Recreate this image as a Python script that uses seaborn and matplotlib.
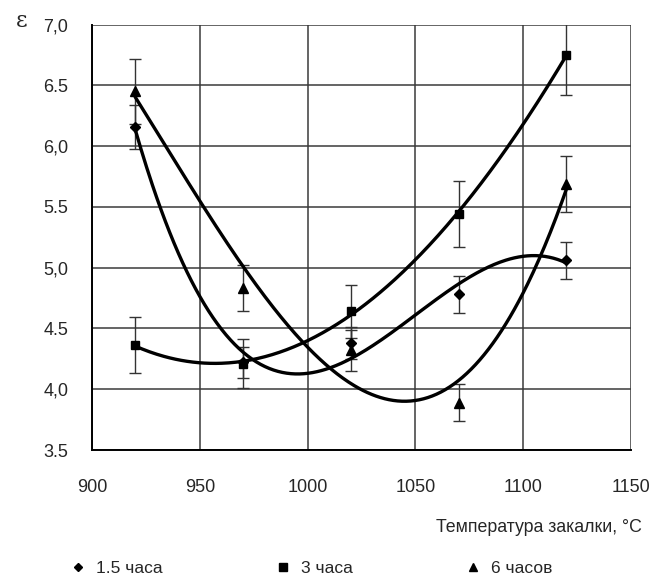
import numpy as np
import pandas as pd
import matplotlib
matplotlib.use('Agg')
import matplotlib.pyplot as plt
import seaborn as sns
from matplotlib.lines import Line2D

# Data
temps = [920, 970, 1020, 1070, 1120]
series_names = ['1.5 часа', '3 часа', '6 часов']
eps_15 = [6.16, 4.22, 4.38, 4.78, 5.06]
err_15 = [0.18, 0.13, 0.13, 0.15, 0.15]
eps_3 = [4.36, 4.21, 4.64, 5.44, 6.75]
err_3 = [0.23, 0.20, 0.22, 0.27, 0.33]
eps_6 = [6.45, 4.83, 4.32, 3.89, 5.69]
err_6 = [0.27, 0.19, 0.17, 0.15, 0.23]
markers = ['D', 's', '^']
marker_sizes = [5, 6, 7]

y_ticks = [3.5, 4.0, 4.5, 5.0, 5.5, 6.0, 6.5, 7.0]
y_tick_labels = ['3.5', '4,0', '4.5', '5,0', '5.5', '6,0', '6.5', '7,0']
x_ticks = [900, 950, 1000, 1050, 1100, 1150]

sns.set_style('white')
plt.rcParams['font.family'] = ['Liberation Sans', 'DejaVu Sans']

fig = plt.figure(figsize=(6.49, 5.77), dpi=100)
ax = fig.add_axes([0.1418, 0.2201, 0.8305, 0.7374])

all_vals = [eps_15, eps_3, eps_6]
all_errs = [err_15, err_3, err_6]

# Cubic trend lines (like Excel polynomial trendline)
xs = np.linspace(920, 1120, 300)
trend_frames = []
for name, vals in zip(series_names, all_vals):
    coefs = np.polyfit(temps, vals, 3)
    trend_frames.append(pd.DataFrame({'T': xs, 'eps': np.polyval(coefs, xs), 'series': name}))
trend = pd.concat(trend_frames)

for name, vals, errs in zip(series_names, all_vals, all_errs):
    ax.errorbar(temps, vals, yerr=errs, fmt='none', ecolor='#333333',
                elinewidth=1.0, capsize=4.5, capthick=1.0, zorder=3)

sns.lineplot(data=trend, x='T', y='eps', units='series', estimator=None,
             color='black', linewidth=2.4, ax=ax, zorder=4)

for name, vals, m, ms in zip(series_names, all_vals, markers, marker_sizes):
    ax.plot(temps, vals, linestyle='none', marker=m, markersize=ms,
            color='black', zorder=5)

ax.set_xlim(900, 1150)
ax.set_ylim(3.5, 7.0)
ax.set_xticks(x_ticks)
ax.set_yticks(y_ticks)
ax.set_yticklabels(y_tick_labels)
ax.tick_params(axis='both', labelsize=13, direction='out', length=8,
               width=1.0, color='black')
ax.tick_params(axis='y', pad=9)
ax.tick_params(axis='x', pad=13)
ax.grid(True, color='#3a3a3a', linewidth=1.1)
ax.set_xlabel('')
ax.set_ylabel('')
for side in ['top', 'right']:
    ax.spines[side].set_visible(False)
for side in ['left', 'bottom']:
    ax.spines[side].set_color('black')
    ax.spines[side].set_linewidth(1.4)

fig.text(0.034, 0.963, 'ε', fontsize=16, family=['DejaVu Serif'], ha='center', va='center')
fig.text(0.989, 0.085, 'Температура закалки, °С', fontsize=12.8, ha='right', va='center')

handles = [Line2D([], [], linestyle='none', marker=m, markersize=ms * 0.85, color='black')
           for m, ms in zip(markers, marker_sizes)]
fig.legend(handles, series_names, loc='center left', bbox_to_anchor=(0.08, 0.014),
           ncol=3, frameon=False, fontsize=12.5, handletextpad=0.45,
           columnspacing=6.3, handlelength=1.2)

fig.savefig('out.png', dpi=100)
